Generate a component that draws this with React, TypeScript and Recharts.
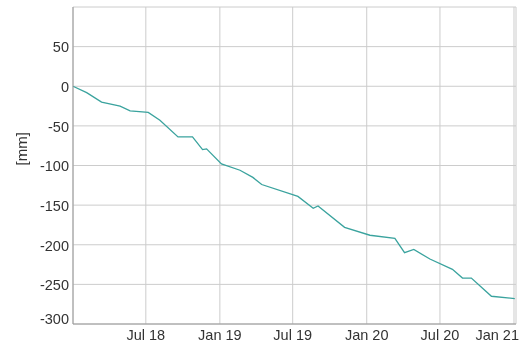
import React from "react";
import { LineChart, Line, XAxis, YAxis, CartesianGrid } from "recharts";

const dates = [
  "2018-01-01", "2018-02-04", "2018-03-13", "2018-04-28", "2018-05-23", "2018-07-07",
  "2018-08-05", "2018-09-19", "2018-10-25", "2018-11-19", "2018-11-29", "2019-01-05",
  "2019-02-20", "2019-03-24", "2019-04-15", "2019-07-14", "2019-08-21", "2019-09-02",
  "2019-11-07", "2020-01-09", "2020-03-11", "2020-04-04", "2020-04-27", "2020-06-06",
  "2020-08-01", "2020-08-26", "2020-09-17", "2020-11-06", "2021-01-03",
];
const values = [
  0, -8, -20, -25, -31, -33,
  -43, -64, -64, -80, -79, -98,
  -106, -115, -124, -139, -154, -151,
  -178, -188, -192, -210, -206, -218,
  -231, -242, -242, -265, -268,
];
const xTickDates = ["2018-07-01", "2019-01-01", "2019-07-01", "2020-01-01", "2020-07-01", "2021-01-01"];
const xTickLabels = ["Jul 18", "Jan 19", "Jul 19", "Jan 20", "Jul 20", "Jan 21"];
const yTicks = [-300, -250, -200, -150, -100, -50, 0, 50];
const xDomain = ["2018-01-01", "2021-01-06"];

const ts = (d: string) => Date.parse(d + "T00:00:00Z");
const data = dates.map((d, i) => ({ t: ts(d), v: values[i] }));
const xTicks = xTickDates.map(ts);
const labelFor = (t: number) => {
  const i = xTicks.indexOf(t);
  return i >= 0 ? xTickLabels[i] : "";
};

const FONT = 14.5;

const XTick = (props: any) => {
  const { x, y, payload } = props;
  const label = labelFor(payload.value);
  const halfW = 22;
  const overflow = x + halfW > 519;
  return (
    <text
      x={overflow ? 519 : x}
      y={y}
      dy="0.71em"
      textAnchor={overflow ? "end" : "middle"}
      fill="#333333"
      fontSize={FONT}
    >
      {label}
    </text>
  );
};

const YTick = (props: any) => {
  const { x, y, payload } = props;
  const isBottom = payload.value === -300;
  return (
    <text x={x} y={y} dy={isBottom ? "0.0em" : "0.4em"} textAnchor="end" fill="#333333" fontSize={FONT}>
      {payload.value}
    </text>
  );
};

export default function App() {
  return (
    <div style={{ position: "fixed", left: 0, top: 0, fontFamily: "'Liberation Sans', Arial, sans-serif" }}>
      <LineChart width={525} height={347} data={data} margin={{ top: 7, right: 9, bottom: 0, left: 13 }}>
        <CartesianGrid stroke="#cccccc" strokeWidth={1} />
        <XAxis
          dataKey="t"
          type="number"
          scale="time"
          domain={[ts(xDomain[0]), ts(xDomain[1])]}
          ticks={xTicks}
          interval={0}
          tick={<XTick />}
          tickLine={false}
          tickSize={0}
          axisLine={{ stroke: "#999999" }}
          height={23}
          tickMargin={6}
        />
        <YAxis
          type="number"
          domain={[-300, 100]}
          ticks={yTicks}
          interval={0}
          tick={<YTick />}
          tickLine={false}
          tickSize={0}
          axisLine={{ stroke: "#999999" }}
          width={60}
          tickMargin={4}
          label={{ value: "[mm]", angle: -90, position: "insideLeft", offset: 9, fill: "#333333", fontSize: 15 }}
        />
        <Line
          type="linear"
          dataKey="v"
          stroke="#3aa39e"
          strokeWidth={1.3}
          dot={false}
          isAnimationActive={false}
        />
      </LineChart>
    </div>
  );
}
